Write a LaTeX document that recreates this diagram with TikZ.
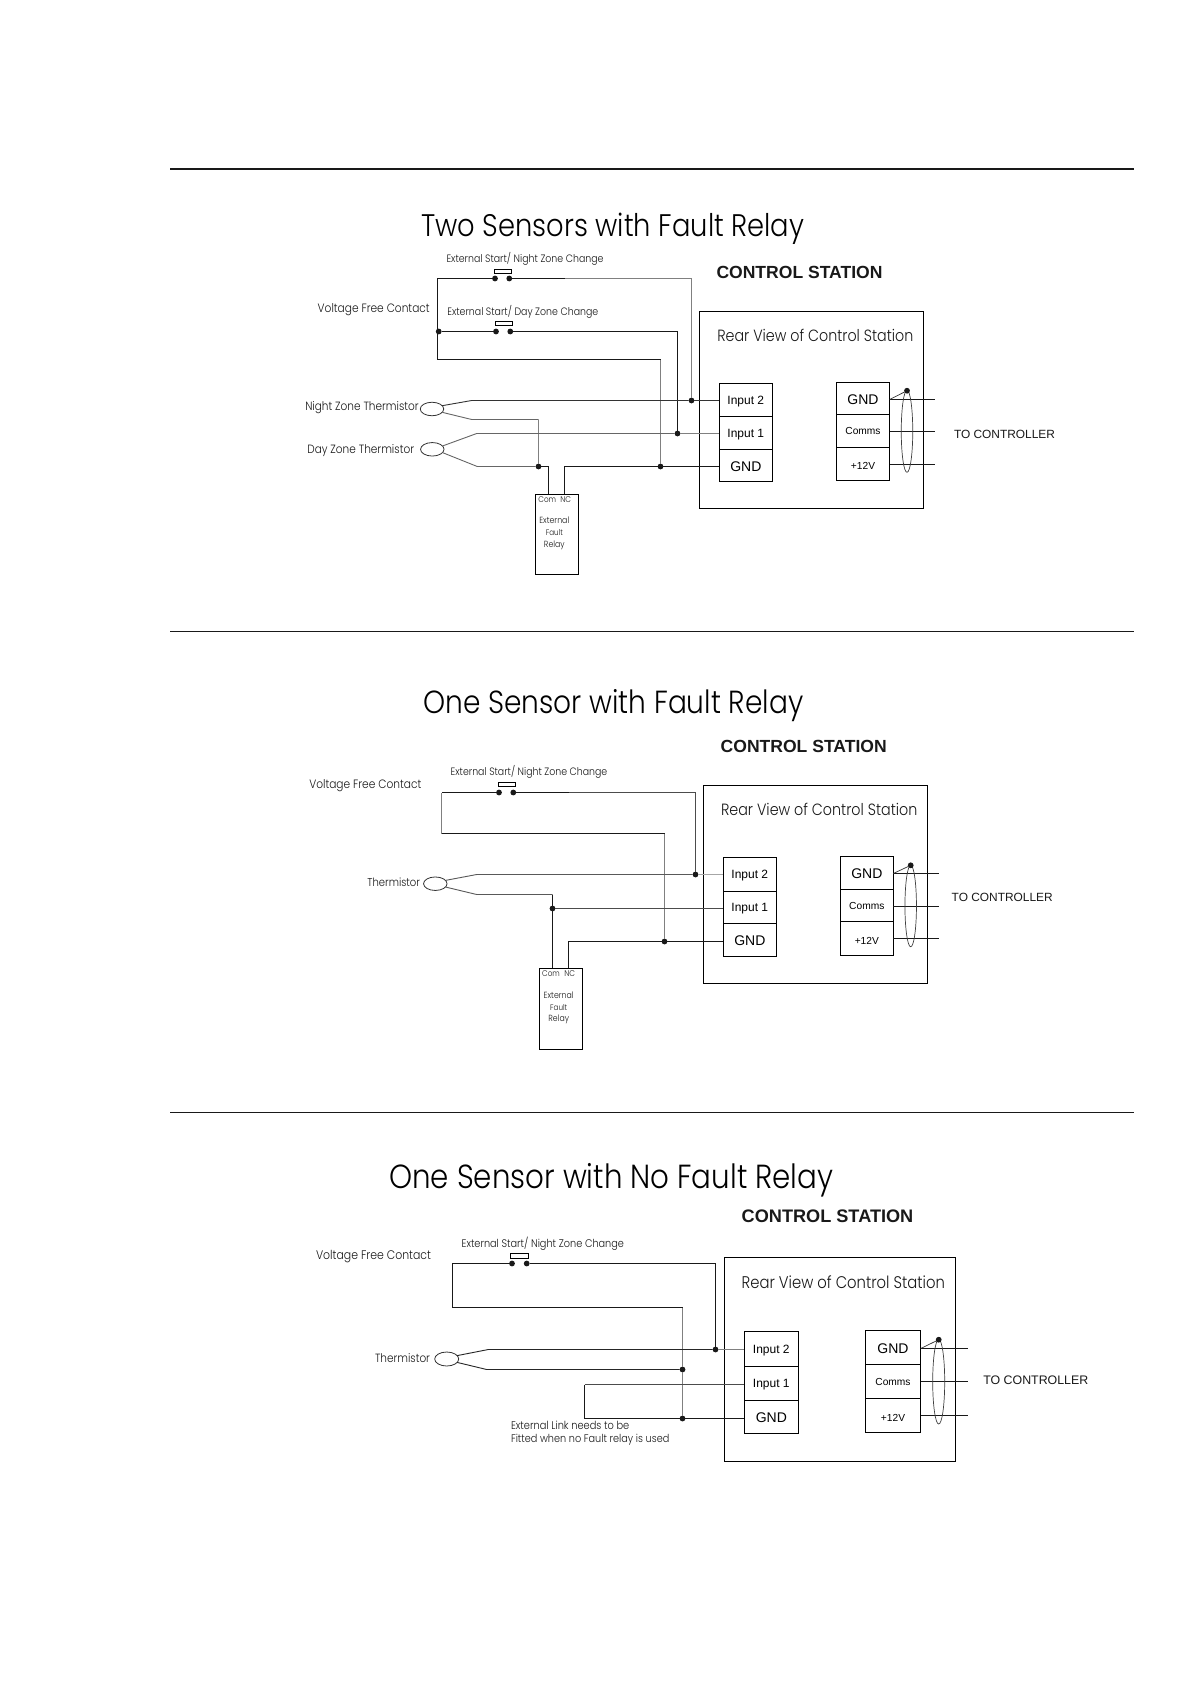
\documentclass[tikz,border=0pt]{standalone}
\usepackage{fontspec}
\usepackage{graphicx}
\usetikzlibrary{shapes.geometric}
\setmainfont{Liberation Sans}
\newfontfamily\geo{Poppins Light}
\newfontfamily\ari{Liberation Sans}
\newcommand\geot[2]{\resizebox{#1pt}{!}{\scalebox{1}[1.14]{\geo #2}}}
\newcommand\arit[2]{\resizebox{#1pt}{!}{\ari #2}}
\newcommand\arib[2]{\resizebox{#1pt}{!}{\ari\bfseries #2}}
\newcommand\dn[2]{\raisebox{-#1pt}[\height][\depth]{#2}}
\newcommand\bx[7]{\node[blk,#6,minimum width={(#4-#2)*1pt},minimum height={(#5-#3)*1pt}] (#1) at ({(#2+#4)/2},{(#3+#5)/2}) {#7};}
\newcommand\dt[3]{\node[dotn] (#1) at (#2,#3) {};}
\tikzset{
  blk/.style={draw=black,line width=1.1pt,rectangle,inner sep=0pt,outer sep=0pt},
  dotn/.style={circle,fill=black!90,draw=none,minimum size=5.8pt,inner sep=0pt,outer sep=0pt},
  wire/.style={draw=black!90,line width=1.1pt,line cap=butt},
  wireg/.style={draw=black!50,line width=1.1pt},
  rule/.style={draw=black!90},
  lab/.style={inner sep=0pt,outer sep=0pt,text=black!90},
  gl/.style={lab,yshift=-1pt},
  ttl/.style={lab,yshift=-3.5pt,text=black},
  inp/.style={font=\ari\fontsize{12}{12}\selectfont},
  gnd/.style={font=\ari\fontsize{14}{14}\selectfont},
  sml/.style={font=\ari\fontsize{10.2}{10.2}\selectfont},
  therm/.style={ellipse,draw=black!80,line width=0.8pt,inner sep=0pt,outer sep=0pt,minimum width=23.5pt,minimum height=13.5pt},
  cable/.style={ellipse,draw=black!75,line width=0.7pt,inner sep=0pt,outer sep=0pt,minimum width=11.5pt},
  bar/.style={rectangle,draw=black,line width=0.9pt,inner sep=0pt,outer sep=0pt,fill=white},
}
\begin{document}
\begin{tikzpicture}[x=1pt,y=-1pt]
\fill[white] (0,0) rectangle (1191,1684);
\useasboundingbox (0,0) rectangle (1191,1684);

% rules
\coordinate (r1a) at (170,168.7); \coordinate (r1b) at (1133.7,168.7);
\coordinate (r2a) at (170,631.3); \coordinate (r2b) at (1133.7,631.3);
\coordinate (r3a) at (170,1112.3); \coordinate (r3b) at (1133.7,1112.3);
\draw[rule,line width=2.2pt] (r1a) -- (r1b);
\draw[rule,line width=1.2pt] (r2a) -- (r2b);
\draw[rule,line width=1.2pt] (r3a) -- (r3b);

% ===== PANEL 1 =====
\node[ttl] (aT) at (612.7,225) {\geot{383}{Two Sensors with Fault Relay}};
\node[lab] (aCS) at (799.5,272.7) {\arib{166}{CONTROL STATION}};
\node[gl] (aE1) at (525,258.3) {\geot{157}{External Start/ Night Zone Change}};
\node[gl] (aE2) at (522.8,311) {\geot{151}{External Start/ Day Zone Change}};
\node[gl] (aV) at (373.7,308.7) {\geot{112}{Voltage Free Contact}};
\node[gl] (aN) at (362,406.7) {\geot{113.4}{Night Zone Thermistor}};
\node[gl] (aD) at (360.7,450) {\geot{106.7}{Day Zone Thermistor}};

\bx{aBox}{699.3}{311.3}{923.3}{508.3}{}{}
\node[lab] (aR) at (815.3,335.3) {\geot{196}{Rear View of Control Station}};
\bx{aI2}{719.3}{383.3}{772.3}{416.3}{inp}{\dn{1.5}{Input 2}}
\bx{aI1}{719.3}{416.3}{772.3}{449.3}{inp}{\dn{1.5}{Input 1}}
\bx{aIG}{719.3}{449.3}{772.3}{481.3}{gnd}{\dn{1}{GND}\hspace{3pt}}
\bx{aCG}{836.3}{382.3}{889.7}{414.3}{gnd}{\dn{1}{GND}\hspace{3pt}}
\bx{aCC}{836.3}{414.3}{889.7}{447.3}{sml}{\dn{0.5}{Comms}}
\bx{aC12}{836.3}{447.3}{889.7}{480.3}{sml}{\dn{2.5}{+12V}}
\coordinate (aO1) at (935,399.5); \coordinate (aO2) at (935,431.5); \coordinate (aO3) at (935,464.5);
\draw[wire] (aCG.east |- aO1) -- (aO1);
\draw[wire] (aCC.east |- aO2) -- (aO2);
\draw[wire] (aC12.east |- aO3) -- (aO3);
\node[cable,minimum height=82pt] (aCab) at (907,431.3) {};
\dt{aCd}{907}{390.7}
\draw[black!80,line width=0.7pt] (aCG.east |- aO1) -- (aCd);
\node[lab] (aTC) at (1004.5,434.3) {\arit{101}{TO CONTROLLER}};

% relay
\bx{aRel}{535.3}{494.3}{578.3}{574.3}{}{}
\node[lab] (aCom) at (547.3,499.5) {\geot{17.7}{Com}};
\node[lab] (aNC) at (565.7,499.5) {\geot{10.7}{NC}};
\node[lab] (aRx) at (554.3,520.7) {\geot{30}{External}};
\node[lab] (aRy) at (554.3,533) {\geot{17}{Fault}};
\node[lab] (aRz) at (554.3,545.3) {\geot{20.7}{Relay}};

% switches
\dt{aS1}{495}{278.5} \dt{aS2}{509.3}{278.5}
\node[bar,minimum width=17.4pt,minimum height=4pt] (aB1) at (503,271.3) {};
\dt{aS3}{496}{331.5} \dt{aS4}{510.3}{331.5}
\node[bar,minimum width=17.7pt,minimum height=4pt] (aB2) at (503.8,323.3) {};
% dots
\dt{aJ0}{438.7}{331.5} \dt{aJ2}{691.5}{400.5} \dt{aJ1}{677.5}{433.5} \dt{aJG}{660.5}{466.5} \dt{aJT}{538.5}{466.5}
% thermistors
\node[therm] (aTh1) at (432,409) {};
\node[therm] (aTh2) at (432.3,449.3) {};
\coordinate (a1) at (437.5,278.5); \coordinate (a2) at (565,278.5); \coordinate (a3) at (691.5,278.5);
\coordinate (a4) at (437.5,359.5); \coordinate (a5) at (660.5,359.5);
\coordinate (a6) at (677.5,331.5);
\draw[wire] (aS1) -- (a1) -- (a4) -- (a5);
\draw[wire] (aJ0) -- (aS3);
\draw[wire] (aS2) -- (a2);
\draw[wireg] (a2) -- (a3) -- (aJ2);
\draw[wire] (aS4) -- (a6) -- (aJ1);
\draw[wireg] (a5) -- (aJG);
\draw[wire] (aJG) -- (aJG -| aIG.west);
% thermistor wires
\coordinate (a7) at (471.7,400.5); \coordinate (a8) at (471.7,419.5); \coordinate (a9) at (538.5,419.5);
\coordinate (a10) at (476.7,433.5); \coordinate (a11) at (477.3,466.5);
\draw[black!80,line width=0.9pt] (aTh1.18) -- (a7) -- (aJ2);
\draw[black!80,line width=0.9pt] (aJ2) -- (aJ2 -| aI2.west);
\draw[black!60,line width=0.9pt] (aTh1.-18) -- (a8) -- (a9);
\draw[wireg] (a9) -- (aJT);
\draw[black!60,line width=0.9pt] (aTh2.18) -- (a10) -- (aJ1);
\draw[wireg] (aJ1) -- (aJ1 -| aI1.west);
\draw[black!60,line width=0.9pt] (aTh2.-18) -- (a11) -- (aJT);
% relay wires
\coordinate (a12) at (548.5,466.5); \coordinate (a13) at (548.5,494.3);
\coordinate (a14) at (564.5,494.3); \coordinate (a15) at (564.5,466.5);
\draw[wire] (aJT) -- (a12) -- (a13);
\draw[wire] (a14) -- (a15) -- (aJG);

% ===== PANEL 2 =====
\node[ttl] (bT) at (613.3,701.7) {\geot{380}{One Sensor with Fault Relay}};
\node[lab] (bCS) at (803.7,746.5) {\arib{166}{CONTROL STATION}};
\node[gl] (bE1) at (529,771.2) {\geot{156.6}{External Start/ Night Zone Change}};
\node[gl] (bV) at (365.3,784.7) {\geot{112}{Voltage Free Contact}};
\node[lab] (bTm) at (393.7,882.7) {\geot{52.7}{Thermistor}};

\bx{bBox}{703.3}{785.7}{927.7}{983.3}{}{}
\node[lab] (bR) at (819.2,809.7) {\geot{196.3}{Rear View of Control Station}};
\bx{bI2}{723.3}{857.3}{776.3}{891.3}{inp}{\dn{1.5}{Input 2}}
\bx{bI1}{723.3}{891.3}{776.3}{923.3}{inp}{\dn{1.5}{Input 1}}
\bx{bIG}{723.3}{923.3}{776.3}{956.3}{gnd}{\dn{1}{GND}\hspace{3pt}}
\bx{bCG}{840.3}{856.3}{893.3}{889.3}{gnd}{\dn{1}{GND}\hspace{3pt}}
\bx{bCC}{840.3}{889.3}{893.3}{921.3}{sml}{\dn{0.5}{Comms}}
\bx{bC12}{840.3}{921.3}{893.3}{955.3}{sml}{\dn{2.5}{+12V}}
\coordinate (bO1) at (939,873.5); \coordinate (bO2) at (939,906.5); \coordinate (bO3) at (939,938.5);
\draw[wire] (bCG.east |- bO1) -- (bO1);
\draw[wire] (bCC.east |- bO2) -- (bO2);
\draw[wire] (bC12.east |- bO3) -- (bO3);
\node[cable,minimum height=81.5pt] (bCab) at (910.7,906) {};
\dt{bCd}{910.7}{865.3}
\draw[black!80,line width=0.7pt] (bCG.east |- bO1) -- (bCd);
\node[lab] (bTC) at (1002.2,896.9) {\arit{101}{TO CONTROLLER}};

\bx{bRel}{539.3}{968.3}{582.3}{1049.3}{}{}
\node[lab] (bCom) at (551,974) {\geot{17.7}{Com}};
\node[lab] (bNC) at (569.7,974) {\geot{10.7}{NC}};
\node[lab] (bRx) at (558.7,995.3) {\geot{30}{External}};
\node[lab] (bRy) at (558.7,1007.7) {\geot{17}{Fault}};
\node[lab] (bRz) at (558.7,1019.7) {\geot{20.7}{Relay}};

\dt{bS1}{499}{792.5} \dt{bS2}{513.3}{792.5}
\node[bar,minimum width=17.4pt,minimum height=4pt] (bB1) at (507,784.3) {};
\dt{bJ2}{695.5}{874.5} \dt{bJ1}{552.5}{908.5} \dt{bJG}{664.5}{941.5}
\node[therm] (bTh) at (435.3,883.7) {};
\coordinate (b1) at (441.7,792.5); \coordinate (b2) at (569,792.5); \coordinate (b3) at (695.5,792.5);
\coordinate (b4) at (441.7,833.5); \coordinate (b5) at (664.5,833.5);
\draw[wire] (bS1) -- (b1);
\draw[wireg] (b1) -- (b4);
\draw[wire] (b4) -- (b5);
\draw[wireg] (b5) -- (bJG);
\draw[wire] (bS2) -- (b2);
\draw[black!70,line width=1.1pt] (b2) -- (b3) -- (bJ2);
\coordinate (b6) at (476.7,874.5); \coordinate (b7) at (476.7,894.5); \coordinate (b8) at (552.5,894.5);
\draw[black!65,line width=0.9pt] (bTh.18) -- (b6) -- (bJ2);
\draw[black!35,line width=1pt] (bJ2) -- (bJ2 -| bI2.west);
\draw[black!65,line width=0.9pt] (bTh.-18) -- (b7) -- (b8);
\coordinate (b9) at (552.5,968.3);
\draw[wire] (b8) -- (b9);
\draw[black!70,line width=0.9pt] (bJ1) -- (bJ1 -| bI1.west);
\coordinate (b10) at (568.5,968.3); \coordinate (b11) at (568.5,941.5);
\draw[wire] (b10) -- (b11) -- (bJG);
\draw[wire] (bJG) -- (bJG -| bIG.west);

% ===== PANEL 3 =====
\node[ttl] (cT) at (611.3,1176.8) {\geot{444}{One Sensor with No Fault Relay}};
\node[lab] (cCS) at (827.5,1216.5) {\arib{171.6}{CONTROL STATION}};
\node[gl] (cE1) at (542.8,1242.5) {\geot{162.3}{External Start/ Night Zone Change}};
\node[gl] (cV) at (373.5,1256) {\geot{115}{Voltage Free Contact}};
\node[lab] (cTm) at (402.5,1357.7) {\geot{55}{Thermistor}};
\node[lab,anchor=west] (cL1) at (511,1425.5) {\geot{118.3}{External Link needs to be}};
\node[lab,anchor=west] (cL2) at (511,1439.5) {\geot{158.3}{Fitted when no Fault relay is used}};

\bx{cBox}{724.3}{1257.3}{955.7}{1461.3}{}{}
\node[lab] (cR) at (843.3,1282) {\geot{203.3}{Rear View of Control Station}};
\bx{cI2}{744.3}{1331.3}{798.3}{1366.3}{inp}{\dn{1.5}{Input 2}}
\bx{cI1}{744.3}{1366.3}{798.3}{1400.3}{inp}{\dn{1.5}{Input 1}}
\bx{cIG}{744.3}{1400.3}{798.3}{1433.3}{gnd}{\dn{1}{GND}\hspace{3pt}}
\bx{cCG}{865.3}{1330.3}{920.7}{1364.3}{gnd}{\dn{1}{GND}\hspace{3pt}}
\bx{cCC}{865.3}{1364.3}{920.7}{1398.3}{sml}{\dn{0.5}{Comms}}
\bx{cC12}{865.3}{1398.3}{920.7}{1432.3}{sml}{\dn{2.5}{+12V}}
\coordinate (cO1) at (967.7,1348.5); \coordinate (cO2) at (967.7,1381.5); \coordinate (cO3) at (967.7,1415.5);
\draw[wire] (cCG.east |- cO1) -- (cO1);
\draw[wire] (cCC.east |- cO2) -- (cO2);
\draw[wire] (cC12.east |- cO3) -- (cO3);
\node[cable,minimum height=84.6pt,minimum width=12pt] (cCab) at (938.7,1381.7) {};
\dt{cCd}{938.7}{1339.7}
\draw[black!80,line width=0.7pt] (cCG.east |- cO1) -- (cCd);
\node[lab] (cTC) at (1035.8,1380.7) {\arit{105}{TO CONTROLLER}};

\dt{cS1}{512}{1263.5} \dt{cS2}{526.7}{1263.5}
\node[bar,minimum width=18.4pt,minimum height=5pt] (cB1) at (519.5,1256) {};
\dt{cJ2}{715.5}{1349.5} \dt{cJT}{682.5}{1369.5} \dt{cJG}{682.5}{1418.5}
\node[therm,minimum width=24pt,minimum height=14pt] (cTh) at (446.7,1359) {};
\coordinate (c1) at (452.5,1263.5); \coordinate (c2) at (715.5,1263.5);
\coordinate (c3) at (452.5,1307.5); \coordinate (c4) at (682.5,1307.5);
\draw[wire] (cS1) -- (c1) -- (c3) -- (c4);
\draw[black!50,line width=1.1pt] (c4) -- (cJT);
\draw[black!50,line width=1.1pt] (cJT) -- (cJG);
\draw[wire] (cS2) -- (c2) -- (cJ2);
\coordinate (c5) at (488.3,1349.5); \coordinate (c6) at (486.7,1369.5);
\draw[black!85,line width=0.9pt] (cTh.18) -- (c5) -- (cJ2);
\draw[black!50,line width=1pt] (cJ2) -- (cJ2 -| cI2.west);
\draw[black!85,line width=0.9pt] (cTh.-18) -- (c6) -- (cJT);
\coordinate (c7) at (584.5,1384.5); \coordinate (c8) at (584.5,1418.5);
\draw[black!70,line width=1pt] (c7 -| cI1.west) -- (c7);
\draw[wire] (c7) -- (c8) -- (cJG);
\draw[wire] (cJG) -- (cJG -| cIG.west);
\end{tikzpicture}
\end{document}
